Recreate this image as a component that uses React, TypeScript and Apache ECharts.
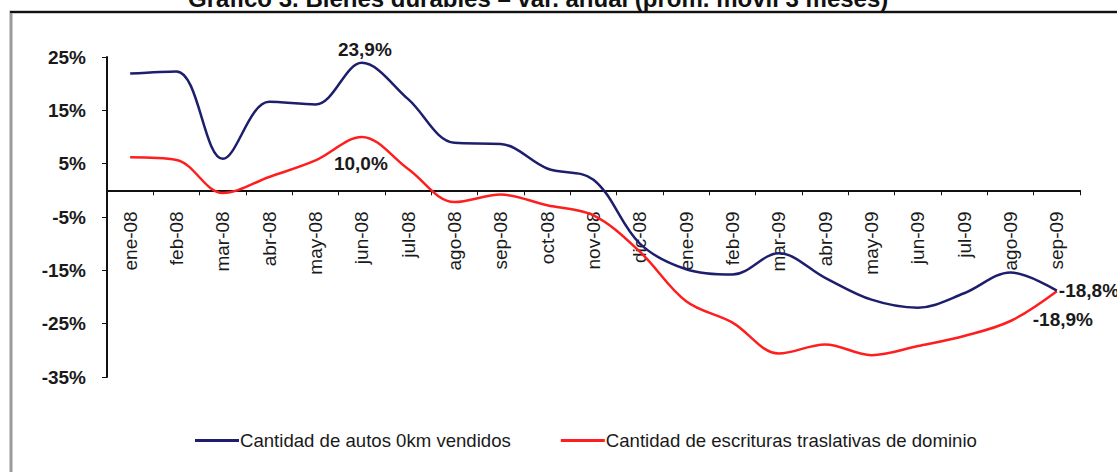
import React, { useEffect, useRef } from "react";
import * as echarts from "echarts";

const categories = [
  "ene-08", "feb-08", "mar-08", "abr-08", "may-08", "jun-08", "jul-08",
  "ago-08", "sep-08", "oct-08", "nov-08", "dic-08", "ene-09", "feb-09",
  "mar-09", "abr-09", "may-09", "jun-09", "jul-09", "ago-09", "sep-09",
];

const autosValues = [
  21.9, 22.3, 5.9, 16.6, 16.1, 23.9, 17.1, 8.9, 8.7, 4.1, 2.0, -10.0, -14.8,
  -15.8, -11.8, -16.4, -20.5, -22.0, -19.3, -15.4, -18.8,
];

const escriturasValues = [
  6.2, 5.7, -0.5, 2.5, 5.6, 10.0, 4.0, -2.2, -0.8, -2.8, -4.7, -11.5, -20.8,
  -24.8, -30.6, -28.9, -30.9, -29.2, -27.3, -24.5, -18.9,
];

const yTicks = [-35, -25, -15, -5, 5, 15, 25];

const seriesNames = [
  "Cantidad de autos 0km vendidos",
  "Cantidad de escrituras traslativas de dominio",
];

const titleText = "Gráfico 3. Bienes durables – var. anual (prom. móvil 3 meses)";

const fmt = (v: number) => v.toFixed(1).replace(".", ",") + "%";

export default function App() {
  const ref = useRef<HTMLDivElement>(null);

  useEffect(() => {
    if (!ref.current) return;
    const chart = echarts.init(ref.current, null, { renderer: "svg" });
    const font = "'Liberation Sans', Arial, sans-serif";
    const lastIdx = categories.length - 1;
    const peakIdx = categories.indexOf("jun-08");

    const W = 1117;
    const H = 472;
    const gridTop = 57;
    const gridBottom = 95;
    const yMin = yTicks[0];
    const yMax = yTicks[yTicks.length - 1];
    const plotH = H - gridTop - gridBottom;
    const zeroFromBottom = (plotH * (0 - yMin)) / (yMax - yMin);

    const labelBase = {
      show: true,
      fontFamily: font,
      fontSize: 19,
      fontWeight: "bold" as const,
      color: "#1a1a1a",
      formatter: (p: any) => fmt(p.value),
    };

    const autosData = autosValues.map((v, i) => {
      if (i === peakIdx) return { value: v, label: { ...labelBase, position: "top", distance: 4, offset: [3, 0] } };
      if (i === lastIdx) return { value: v, label: { ...labelBase, position: "right", distance: 2 } };
      return v;
    });
    const escData = escriturasValues.map((v, i) => {
      if (i === peakIdx) return { value: v, label: { ...labelBase, position: "bottom", distance: 17, offset: [-1, 0] } };
      if (i === lastIdx)
        return { value: v, label: { ...labelBase, position: "bottom", distance: 19, offset: [6, 0] } };
      return v;
    });

    chart.setOption({
      animation: false,
      backgroundColor: "#ffffff",
      title: {
        text: titleText,
        left: 188,
        top: -14,
        padding: 0,
        textStyle: { fontFamily: font, fontSize: 24, fontWeight: "bold", color: "#111" },
      },
      graphic: [
        {
          type: "rect",
          shape: { x: 11, y: 12, width: 1120, height: 480 },
          style: { fill: "none", stroke: "#9a9a9a", lineWidth: 3 },
          z: -1,
        },
        {
          type: "line",
          shape: { x1: 10, y1: 12, x2: W, y2: 12 },
          style: { stroke: "#111", lineWidth: 2 },
        },
      ],
      legend: {
        data: seriesNames,
        left: 190,
        top: 426,
        icon: "rect",
        itemWidth: 44,
        itemHeight: 3,
        itemGap: 50,
        textStyle: { fontFamily: font, fontSize: 18.6, color: "#1a1a1a", padding: [0, 0, 0, -4] },
      },
      grid: { left: 107, right: 37, top: gridTop, bottom: gridBottom, containLabel: false },
      xAxis: {
        type: "category",
        data: categories,
        boundaryGap: true,
        offset: -zeroFromBottom,
        axisLine: { onZero: false, lineStyle: { color: "#111", width: 2 } },
        axisTick: { show: true, length: 5, inside: false, lineStyle: { color: "#111", width: 1 } },
        axisLabel: {
          rotate: 90,
          margin: 21,
          fontFamily: font,
          fontSize: 19,
          color: "#1a1a1a",
          interval: 0,
        },
        splitLine: { show: false },
      },
      yAxis: {
        type: "value",
        min: yMin,
        max: yMax,
        interval: 10,
        axisLine: { show: true, lineStyle: { color: "#111", width: 2 } },
        axisTick: { show: true, length: 5, lineStyle: { color: "#111" } },
        axisLabel: {
          fontFamily: font,
          fontSize: 19,
          fontWeight: "bold",
          color: "#1a1a1a",
          margin: 21,
          formatter: (v: number) => `${v}%`,
        },
        splitLine: { show: false },
      },
      series: [
        {
          name: seriesNames[0],
          type: "line",
          data: autosData,
          smooth: 0.35,
          showSymbol: true,
          symbol: "circle",
          symbolSize: 0,
          lineStyle: { color: "#1e1e6e", width: 2.5 },
          itemStyle: { color: "#1e1e6e" },
          z: 3,
        },
        {
          name: seriesNames[1],
          type: "line",
          data: escData,
          smooth: 0.35,
          showSymbol: true,
          symbol: "circle",
          symbolSize: 0,
          lineStyle: { color: "#ff1e1e", width: 2.5 },
          itemStyle: { color: "#ff1e1e" },
          z: 2,
        },
      ],
    });

    return () => chart.dispose();
  }, []);

  return (
    <div
      ref={ref}
      style={{ position: "fixed", left: 0, top: 0, width: 1117, height: 472, background: "#fff" }}
    />
  );
}
